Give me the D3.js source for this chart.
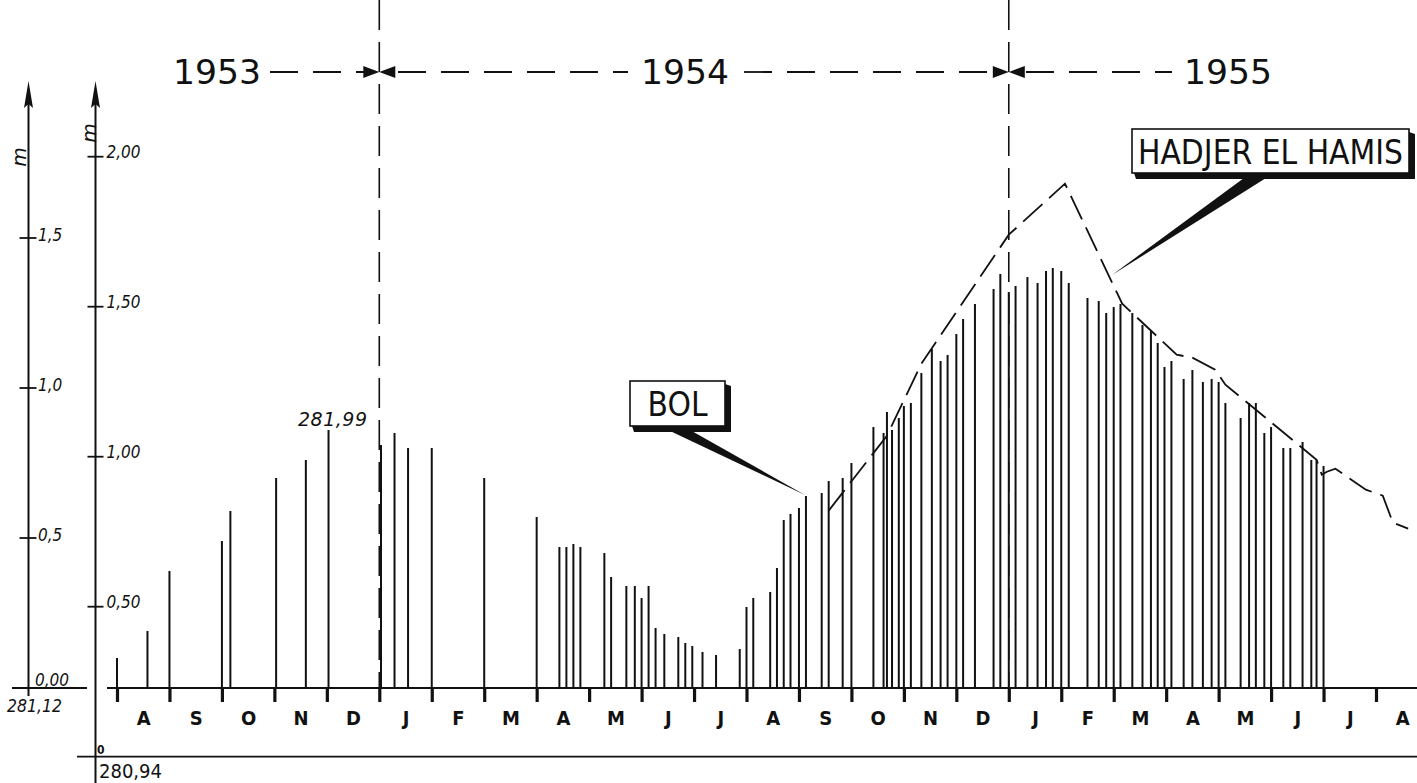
<!DOCTYPE html>
<html><head><meta charset="utf-8">
<script src="https://cdn.jsdelivr.net/npm/d3@7"></script>
<style>
body{margin:0;background:#fff}
svg{display:block}
text{fill:#111}
</style>
</head><body>
<svg id="c" width="1417" height="783"></svg>
<script>
// ---------- DATA ----------
const monthLabels = ["A","S","O","N","D","J","F","M","A","M","J","J","A","S","O","N","D","J","F","M","A","M","J","J","A"];
const yearLabels = ["1953","1954","1955"];
const seriesNames = ["BOL","HADJER EL HAMIS"];

const bolDates = [
 "1953-08-01","1953-08-19","1953-09-01","1953-10-01","1953-10-06","1953-11-02","1953-11-19","1953-12-02",
 "1954-01-02","1954-01-10","1954-01-18","1954-02-01","1954-03-01",
 "1954-04-01","1954-04-14","1954-04-18","1954-04-22","1954-04-26",
 "1954-05-10","1954-05-14","1954-05-23","1954-05-28",
 "1954-06-01","1954-06-05","1954-06-09","1954-06-14","1954-06-22","1954-06-26","1954-06-30",
 "1954-07-06","1954-07-14","1954-07-28",
 "1954-08-01","1954-08-05","1954-08-15","1954-08-19","1954-08-23","1954-08-27",
 "1954-09-01","1954-09-05","1954-09-14","1954-09-18","1954-09-26",
 "1954-10-01","1954-10-14","1954-10-20","1954-10-22","1954-10-25","1954-10-29",
 "1954-11-01","1954-11-05","1954-11-11","1954-11-17","1954-11-22","1954-11-26",
 "1954-12-01","1954-12-05","1954-12-12","1954-12-23","1954-12-27",
 "1955-01-01","1955-01-05","1955-01-12","1955-01-18","1955-01-23","1955-01-27",
 "1955-02-01","1955-02-05","1955-02-15","1955-02-21","1955-02-25",
 "1955-03-01","1955-03-05","1955-03-12","1955-03-18","1955-03-23","1955-03-27","1955-03-31",
 "1955-04-04","1955-04-11","1955-04-16","1955-04-22","1955-04-27",
 "1955-05-01","1955-05-05","1955-05-14","1955-05-19","1955-05-23","1955-05-28",
 "1955-06-01","1955-06-08","1955-06-12","1955-06-19","1955-06-24","1955-06-27",
 "1955-07-01"
];
const bolLevels = [
 0.10,0.19,0.39,0.49,0.59,0.70,0.76,0.86,
 0.81,0.85,0.80,0.80,0.70,
 0.57,0.47,0.47,0.48,0.47,
 0.45,0.37,0.34,0.34,
 0.30,0.34,0.20,0.18,0.17,0.15,0.14,
 0.12,0.11,0.13,
 0.27,0.30,0.32,0.40,0.56,0.58,
 0.60,0.64,0.65,0.69,0.70,
 0.75,0.87,0.85,0.92,0.86,0.90,
 0.94,0.95,1.05,1.13,1.09,1.11,
 1.18,1.23,1.28,1.33,1.38,
 1.32,1.34,1.37,1.35,1.39,1.40,
 1.39,1.35,1.30,1.29,1.25,
 1.27,1.28,1.25,1.21,1.19,1.15,1.07,
 1.09,1.03,1.06,1.02,1.03,
 1.02,0.95,0.90,0.95,0.95,0.85,
 0.87,0.80,0.80,0.82,0.76,0.76,
 0.74
];

const hadjerDates = [
 "1954-09-18","1954-10-22","1954-11-11","1955-01-01","1955-02-03","1955-03-06",
 "1955-04-07","1955-04-16","1955-04-29","1955-05-05","1955-05-18","1955-06-27",
 "1955-06-30","1955-07-03","1955-07-08","1955-07-26","1955-08-05","1955-08-11","1955-08-20"
];
const hadjerLevels = [
 0.82,1.07,1.31,1.74,1.91,1.51,
 1.34,1.33,1.29,1.24,1.18,0.99,
 0.94,0.95,0.96,0.89,0.87,0.78,0.76
];

const leftTicks = [0, 0.5, 1.0, 1.5];
const leftTickLabels = ["0,00","0,5","1,0","1,5"];
const rightTicks = [0.5, 1.0, 1.5, 2.0];
const rightTickLabels = ["0,50","1,00","1,50","2,00"];
const leftDatum = "281,12";
const rightDatum = "280,94";
const rightZeroLabel = "0";
const peakLabel = "281,99";
const unitLabel = "m";

// ---------- HELPERS ----------
function monthIndex(s){
  const [y,m,d] = s.split("-").map(Number);
  const dim = new Date(y, m, 0).getDate();
  return (y-1953)*12 + (m-1) - 7 + (d-1)/dim;
}

// ---------- SCALES ----------
const x = d3.scaleLinear().domain([0,24]).range([117,1376]);
const yL = d3.scaleLinear().domain([0,2]).range([688,88]);
const yR = d3.scaleLinear().domain([0,2]).range([756.7,156.7]);

const svg = d3.select("#c");
const narrow = "'DejaVu Sans Condensed','Liberation Sans Narrow',sans-serif";
const tickFont = "'Liberation Sans Narrow','DejaVu Sans Condensed',sans-serif";

// ---------- YEAR BOUNDARY DASHED VERTICALS ----------
[5,17].forEach(m=>{
  svg.append("line").attr("x1",x(m)).attr("x2",x(m)).attr("y1",0).attr("y2",yL(0))
    .attr("stroke","#111").attr("stroke-width",1.6).attr("stroke-dasharray","30,12");
});

// ---------- BOTTOM REFERENCE LINE & AXES ----------
svg.append("line").attr("x1",77).attr("x2",1417).attr("y1",yR(0)).attr("y2",yR(0))
  .attr("stroke","#111").attr("stroke-width",1.8);
svg.append("line").attr("x1",107).attr("x2",1417).attr("y1",yL(0)).attr("y2",yL(0))
  .attr("stroke","#111").attr("stroke-width",2);
svg.append("line").attr("x1",12).attr("x2",87).attr("y1",yL(0)).attr("y2",yL(0))
  .attr("stroke","#111").attr("stroke-width",1.8);

const axL = 28.5, axR = 95.5;
svg.append("line").attr("x1",axL).attr("x2",axL).attr("y1",100).attr("y2",696)
  .attr("stroke","#111").attr("stroke-width",2);
svg.append("line").attr("x1",axR).attr("x2",axR).attr("y1",100).attr("y2",783)
  .attr("stroke","#111").attr("stroke-width",2);
[axL,axR].forEach(ax=>{
  svg.append("path").attr("d",`M${ax},81 L${ax-4.5},108 L${ax},104 L${ax+4.5},108 Z`).attr("fill","#111");
});

leftTicks.forEach((v,i)=>{
  if(v>0) svg.append("line").attr("x1",axL-9).attr("x2",axL+8).attr("y1",yL(v)).attr("y2",yL(v))
    .attr("stroke","#111").attr("stroke-width",1.8);
  svg.append("text").attr("x", v===0?35:38).attr("y", v===0? yL(v)-2 : yL(v)+3)
    .attr("font-family",tickFont).attr("font-style","italic").attr("font-size",17)
    .text(leftTickLabels[i]);
});
rightTicks.forEach((v,i)=>{
  svg.append("line").attr("x1",axR-8).attr("x2",axR+8).attr("y1",yR(v)).attr("y2",yR(v))
    .attr("stroke","#111").attr("stroke-width",1.8);
  svg.append("text").attr("x",axR+11).attr("y",yR(v)+1)
    .attr("font-family",tickFont).attr("font-style","italic").attr("font-size",17)
    .text(rightTickLabels[i]);
});
svg.append("text").attr("x",7).attr("y",712).attr("font-family",narrow).attr("font-style","italic")
  .attr("font-size",17).attr("textLength",55).attr("lengthAdjust","spacingAndGlyphs").text(leftDatum);
svg.append("text").attr("x",99).attr("y",778).attr("font-family",narrow)
  .attr("font-size",20).attr("textLength",63).attr("lengthAdjust","spacingAndGlyphs").text(rightDatum);
svg.append("text").attr("x",97).attr("y",754).attr("font-family",narrow).attr("font-weight","bold")
  .attr("font-size",12).text(rightZeroLabel);
[[19,157],[89,133]].forEach(([cx,cy])=>{
  svg.append("text").attr("transform",`translate(${cx},${cy}) rotate(-90)`)
    .attr("text-anchor","middle").attr("dominant-baseline","central")
    .attr("font-family","'DejaVu Sans',sans-serif").attr("font-style","italic").attr("font-size",20)
    .text(unitLabel);
});

// ---------- MONTH AXIS ----------
const monthAxis = d3.axisBottom(x).tickValues(d3.range(0,25)).tickSize(14).tickFormat("");
const gM = svg.append("g").attr("transform",`translate(0,${yL(0)})`).call(monthAxis);
gM.select(".domain").remove();
gM.selectAll(".tick line").attr("stroke","#111").attr("stroke-width",3.2);

const labelAxis = d3.axisBottom(x).tickValues(d3.range(0,25).map(i=>i+0.5)).tickSize(0)
  .tickFormat((d,i)=>monthLabels[i]);
const gL = svg.append("g").attr("transform",`translate(0,${yL(0)+23})`).call(labelAxis);
gL.select(".domain").remove();
gL.selectAll(".tick text").attr("font-family",narrow).attr("font-weight","bold")
  .attr("font-size",20).attr("fill","#111").attr("dy","0.71em").attr("y",0);

// ---------- BOL BARS ----------
const bars = bolDates.map((d,i)=>({t:monthIndex(d), v:bolLevels[i]}));
svg.append("g").selectAll("line").data(bars).join("line")
  .attr("x1",d=>x(d.t)).attr("x2",d=>x(d.t))
  .attr("y1",yL(0)).attr("y2",d=>yL(d.v))
  .attr("stroke","#111").attr("stroke-width",2);

// ---------- HADJER EL HAMIS LINE ----------
const hpts = hadjerDates.map((d,i)=>({t:monthIndex(d), v:hadjerLevels[i]}));
svg.append("path").datum(hpts)
  .attr("d", d3.line().x(d=>x(d.t)).y(d=>yR(d.v)))
  .attr("fill","none").attr("stroke","#111").attr("stroke-width",1.8)
  .attr("stroke-dasharray","26,9");

// ---------- PEAK LABEL ----------
svg.append("text").attr("x",298).attr("y",426).attr("font-family","'DejaVu Sans',sans-serif")
  .attr("font-style","italic").attr("font-size",19).attr("textLength",69).attr("lengthAdjust","spacing")
  .text(peakLabel);

// ---------- YEAR HEADER ----------
const yearY = 72;
const yearPos = [217, 685, 1228];
yearLabels.forEach((t,i)=>{
  svg.append("text").attr("x",yearPos[i]).attr("y",yearY).attr("text-anchor","middle")
    .attr("dominant-baseline","central").attr("font-family",narrow).attr("font-size",34)
    .attr("textLength",88).attr("lengthAdjust","spacingAndGlyphs").text(t);
});
function dashSeg(x1,x2){
  svg.append("line").attr("x1",x1).attr("x2",x2).attr("y1",yearY).attr("y2",yearY)
    .attr("stroke","#111").attr("stroke-width",1.8).attr("stroke-dasharray","28,15");
}
dashSeg(270,366); dashSeg(398,628); dashSeg(744,994); dashSeg(1026,1172);
[x(5),x(17)].forEach(bx=>{
  svg.append("path").attr("d",`M${bx},${yearY} L${bx-16},${yearY-6} L${bx-16},${yearY+6} Z`).attr("fill","#111");
  svg.append("path").attr("d",`M${bx},${yearY} L${bx+16},${yearY-6} L${bx+16},${yearY+6} Z`).attr("fill","#111");
});

// ---------- CALLOUTS ----------
function callout(x0,y0,w,h,label,tl,base1,base2,tip){
  svg.append("path").attr("d",`M${base1[0]},${base1[1]} L${base2[0]},${base2[1]} L${tip[0]},${tip[1]} Z`)
    .attr("fill","#111");
  svg.append("path").attr("d",`M${x0+w},${y0+3} L${x0+w+6},${y0+5} L${x0+w+6},${y0+h+6} L${x0+4},${y0+h+6} L${x0+2},${y0+h} L${x0+w},${y0+h} Z`)
    .attr("fill","#111");
  svg.append("rect").attr("x",x0).attr("y",y0).attr("width",w).attr("height",h)
    .attr("fill","#fff").attr("stroke","#111").attr("stroke-width",1.6);
  svg.append("text").attr("x",x0+w/2).attr("y",y0+h/2+1).attr("text-anchor","middle")
    .attr("dominant-baseline","central").attr("font-family",narrow).attr("font-size",33)
    .attr("textLength",tl).attr("lengthAdjust","spacingAndGlyphs").text(label);
}
callout(630,381,95,45,seriesNames[0],60,[668,430],[690,430],[805,495]);
callout(1132,129,277,44,seriesNames[1],265,[1244,178],[1266,178],[1112,275]);
</script>
</body></html>
